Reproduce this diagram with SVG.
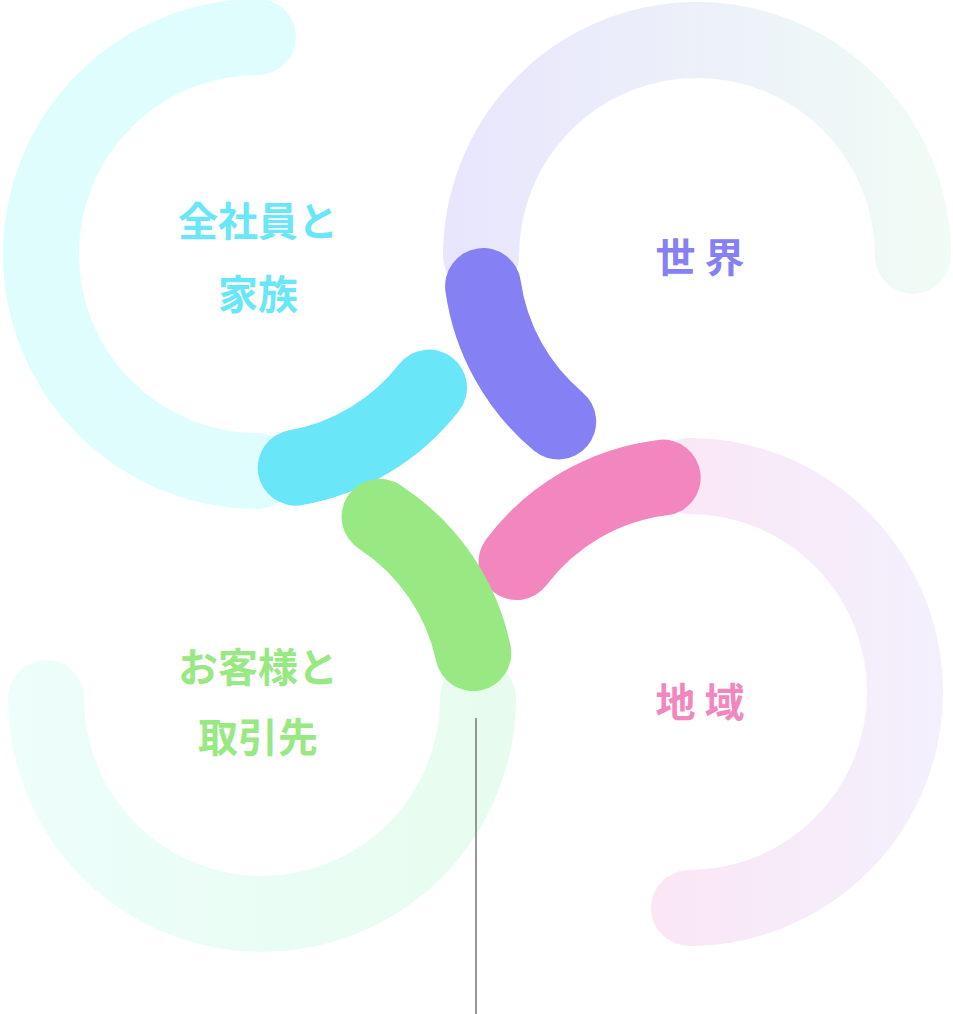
<svg xmlns="http://www.w3.org/2000/svg" width="953" height="1014" viewBox="0 0 953 1014">
<style>
.a{fill:none;stroke-width:76;stroke-linecap:round}
.t{font-family:"Noto Sans CJK JP","Noto Sans CJK SC",sans-serif;font-weight:700;font-size:40px;text-anchor:middle}
</style>
<defs>
<linearGradient id="gp" gradientUnits="userSpaceOnUse" x1="443" y1="0" x2="951" y2="0"><stop offset="0" stop-color="#e8e5fd"/><stop offset="1" stop-color="#f0fcf5"/></linearGradient>
<linearGradient id="gk" gradientUnits="userSpaceOnUse" x1="651" y1="0" x2="944" y2="0"><stop offset="0" stop-color="#fbe6f5"/><stop offset="1" stop-color="#f3f0fd"/></linearGradient>
<linearGradient id="gg" gradientUnits="userSpaceOnUse" x1="8" y1="0" x2="516" y2="0"><stop offset="0" stop-color="#edfefb"/><stop offset="1" stop-color="#e7fcee"/></linearGradient>
</defs>
<g id="bg-arcs">
<path class="a" stroke="#e0fdfe" d="M258,37 A217,217 0 0 0 258,471"/>
<path class="a" stroke="url(#gp)" d="M481,256 A216,216 0 0 1 913,256"/>
<path class="a" stroke="url(#gk)" d="M689,476 A216,216 0 0 1 689,908"/>
<path class="a" stroke="url(#gg)" d="M46,698 A216,216 0 0 0 478,698"/>
</g>
<line id="connector" x1="476" y1="718" x2="476" y2="1014" stroke="#777" stroke-width="1.5"/>
<g id="node-family"><path class="a" stroke="#69e6f7" d="M295.7,467.7 A217,217 0 0 0 429,387.6"/>
<text class="t" fill="#69e6f7" x="258" y="236">全社員と</text><text class="t" fill="#69e6f7" x="258" y="309">家族</text></g>
<g id="node-world"><path class="a" stroke="#8580f3" d="M483.1,286.1 A216,216 0 0 0 558.2,421.5"/>
<text class="t" fill="#8580f3" x="700" y="272">世 界</text></g>
<g id="node-region"><path class="a" stroke="#f287bf" d="M662.7,477.6 A216,216 0 0 0 516.5,562"/>
<text class="t" fill="#f287bf" x="700" y="717">地 域</text></g>
<g id="node-customer"><path class="a" stroke="#98e883" d="M379.6,516.8 A216,216 0 0 1 473.3,653.1"/>
<text class="t" fill="#98e883" x="258" y="682">お客様と</text><text class="t" fill="#98e883" x="258" y="752">取引先</text></g>
</svg>
